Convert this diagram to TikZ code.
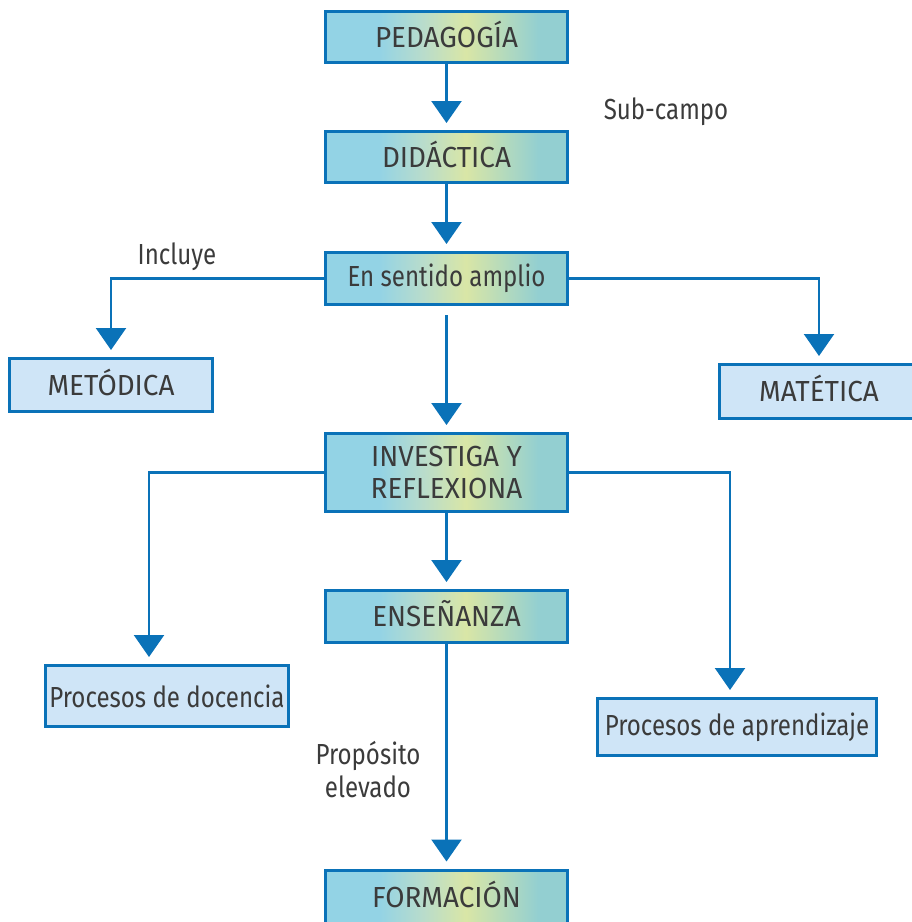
\documentclass[tikz,border=0pt]{standalone}
\usepackage{fontspec}
\setmainfont{Fira Sans}[FakeStretch=0.83]
\newfontfamily\capsfont{Fira Sans}[FakeStretch=0.96]
\usetikzlibrary{arrows.meta}

\definecolor{edge}{HTML}{0A72B8}
\definecolor{ink}{HTML}{3B3B3B}
\definecolor{paleblue}{HTML}{CFE5F7}
\definecolor{gblue}{HTML}{93D3E5}
\definecolor{gmid}{HTML}{B8DCCC}
\definecolor{gyellow}{HTML}{D9E6A6}
\definecolor{gteal}{HTML}{93CFD1}

% horizontal band: blue on the left, yellow just right of centre, teal on the right
\pgfdeclarehorizontalshading{bandshade}{100bp}{%
  color(0bp)=(gblue); color(25bp)=(gblue); color(36bp)=(gblue);
  color(45bp)=(gmid); color(54bp)=(gyellow); color(69bp)=(gteal);
  color(75bp)=(gteal); color(100bp)=(gteal)}

\tikzset{
  x=1pt, y=-1pt,
  every node/.style={text=ink, font=\fontsize{29}{33}\selectfont},
  caps/.style={font=\fontsize{29}{32}\capsfont},
  capline/.style={caps, text height=20pt, text depth=0pt},
  mainbox/.style={draw=edge, line width=3pt, shading=bandshade,
    minimum width=242pt, minimum height=51pt, inner sep=0pt, align=center},
  sidebox/.style={draw=edge, line width=3pt, fill=paleblue,
    minimum height=53pt, inner sep=0pt, align=center},
  flow/.style={draw=edge, line width=2.3pt,
    -{Triangle[width=30pt,length=22pt]}, shorten >=7pt},
  caption/.style={align=center, inner sep=0pt}
}

\begin{document}
\begin{tikzpicture}
\useasboundingbox (0,0) rectangle (912,922);

% main column
\node[mainbox, capline] (ped) at (446.5,37) {PEDAGOGÍA};
\node[mainbox, capline] (did) at (446.5,157) {DIDÁCTICA};
\node[mainbox, minimum height=52pt] (amp) at (446.5,278.5) {En sentido amplio};
\node[mainbox, caps, minimum height=78pt] (inv) at (446.5,472.5) {INVESTIGA Y\\REFLEXIONA};
\node[mainbox, capline, minimum height=52pt] (ens) at (446.5,616.5) {ENSEÑANZA};
\node[mainbox, capline, minimum height=54pt] (for) at (446.5,897) {FORMACIÓN};

% side boxes
\node[sidebox, capline, minimum width=203pt] (met) at (111,385) {METÓDICA};
\node[sidebox, capline, minimum width=200pt, minimum height=54pt] (mat) at (819,391.5) {MATÉTICA};
\node[sidebox, minimum width=243pt, minimum height=61pt] (doc) at (167,696) {Procesos de docencia};
\node[sidebox, minimum width=279pt, minimum height=57pt] (apr) at (737,727) {Procesos de aprendizaje};

% labels
\node[caption] (lsub) at (666,112) {Sub-campo};
\node[caption] (linc) at (177,257) {Incluye};
\node[caption] (lpro) at (368,770) {Propósito\\elevado};

% connectors
\draw[flow] (ped.south) -- (did.north);
\draw[flow] (did.south) -- (amp.north);
\draw[flow, shorten <=9pt] (amp.south) -- (inv.north);
\draw[flow] (amp.west) -| (met.north);
\draw[flow] (amp.east) -| (mat.north);
\draw[flow] (inv.south) -- (ens.north);
\draw[flow] (inv.west) -| ([xshift=-18pt]doc.north);
\draw[flow] (inv.east) -| ([xshift=-7pt]apr.north);
\draw[flow] (ens.south) -- (for.north);
\end{tikzpicture}
\end{document}
